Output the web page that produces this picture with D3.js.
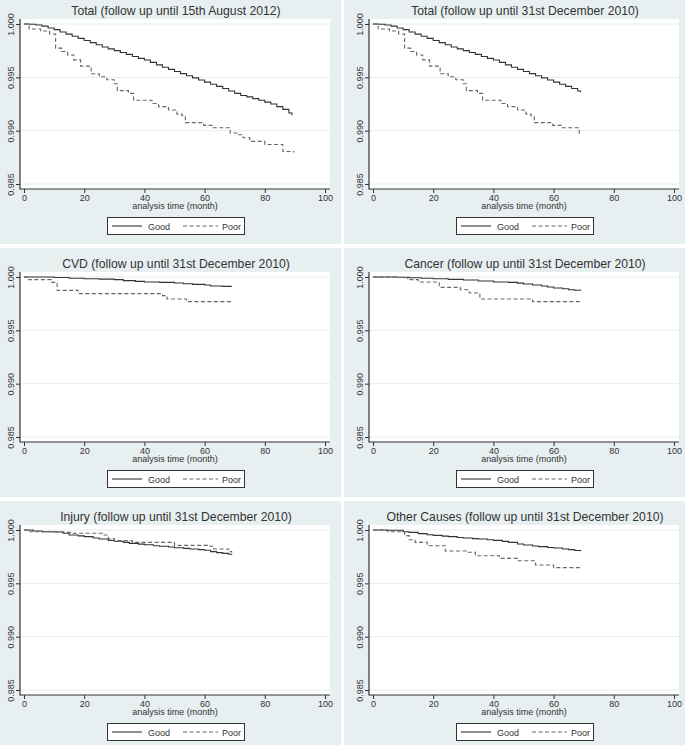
<!DOCTYPE html>
<html><head><meta charset="utf-8">
<script src="https://cdn.jsdelivr.net/npm/d3@7"></script>
<style>
body{margin:0;background:#fff;}
svg{display:block;font-family:"Liberation Sans",Arial,sans-serif;}
</style>
</head><body>
<svg id="chart" width="685" height="745"></svg>
<script>
// ---------------- DATA ----------------
const panelTitles = [
  "Total (follow up until 15th August 2012)",
  "Total (follow up until 31st December 2010)",
  "CVD (follow up until 31st December 2010)",
  "Cancer (follow up until 31st December 2010)",
  "Injury (follow up until 31st December 2010)",
  "Other Causes (follow up until 31st December 2010)"
];
const seriesNames = ["Good", "Poor"];
const xTicks = [0, 20, 40, 60, 80, 100];
const yTicks = [0.985, 0.990, 0.995, 1.000];
const xLabel = "analysis time (month)";

// [month, survival]
const total2012Good = [[0,1.0000],[2,0.99998],[4,0.99990],[6,0.99980],[8,0.99963],[10,0.99947],[12,0.99925],[14,0.99905],[16,0.99885],[18,0.99865],[20,0.99845],[22,0.99825],[24,0.99805],[26,0.99785],[28,0.99767],[30,0.99750],[32,0.99733],[34,0.99715],[36,0.99695],[38,0.99678],[40,0.99662],[42,0.99640],[44,0.99617],[46,0.99595],[48,0.99575],[50,0.99555],[52,0.99535],[54,0.99515],[56,0.99495],[58,0.99475],[60,0.99455],[62,0.99435],[64,0.99415],[66,0.99395],[68,0.99372],[70,0.99350],[72,0.99330],[74,0.99317],[76,0.99300],[78,0.99285],[80,0.99268],[82,0.99250],[84,0.99225],[86,0.99200],[88,0.99165],[89,0.99145]];
const total2012Poor = [[0,1.0000],[1.7,0.99953],[5.5,0.99935],[8.5,0.99906],[10.5,0.99774],[12.5,0.99742],[14.5,0.99710],[16.5,0.99664],[18.8,0.99605],[22.3,0.99533],[25,0.99505],[27.5,0.99478],[30,0.99440],[31,0.99375],[34.7,0.99350],[36.4,0.99285],[42.5,0.99255],[44.7,0.99225],[48,0.99194],[50.8,0.99155],[52.5,0.99140],[53.6,0.99075],[59.7,0.99050],[62.5,0.99027],[68.5,0.98978],[71,0.98962],[72.8,0.98934],[75,0.98900],[80,0.98871],[86,0.98805],[89.6,0.98796]];
const total2010Good = [[0,1.0000],[2,0.99998],[4,0.99990],[6,0.99980],[8,0.99963],[10,0.99947],[12,0.99925],[14,0.99905],[16,0.99885],[18,0.99865],[20,0.99845],[22,0.99825],[24,0.99805],[26,0.99785],[28,0.99767],[30,0.99750],[32,0.99733],[34,0.99715],[36,0.99695],[38,0.99678],[40,0.99662],[42,0.99640],[44,0.99617],[46,0.99595],[48,0.99575],[50,0.99555],[52,0.99535],[54,0.99515],[56,0.99495],[58,0.99475],[60,0.99455],[62,0.99435],[64,0.99415],[66,0.99395],[68,0.99372],[69,0.99360]];
const total2010Poor = [[0,1.0000],[1.7,0.99953],[5.5,0.99935],[8.5,0.99906],[10.5,0.99774],[12.5,0.99742],[14.5,0.99710],[16.5,0.99664],[18.8,0.99605],[22.3,0.99533],[25,0.99505],[27.5,0.99478],[30,0.99440],[31,0.99375],[34.7,0.99350],[36.4,0.99285],[42.5,0.99255],[44.7,0.99225],[48,0.99194],[50.8,0.99155],[52.5,0.99140],[53.6,0.99075],[59.7,0.99050],[62.5,0.99027],[68.5,0.98975],[69,0.98972]];
const cvdGood = [[0,1.0000],[10,0.99995],[15,0.99988],[20,0.99984],[25,0.99980],[30,0.99975],[33,0.99966],[37,0.99959],[40,0.99953],[45,0.99950],[50,0.99944],[53,0.99937],[56,0.99931],[60,0.99925],[62,0.99916],[66,0.99912],[69,0.99912]];
const cvdPoor = [[0,1.0000],[1.5,0.99975],[9,0.99950],[11,0.99875],[18,0.99844],[46,0.99825],[47.5,0.99794],[54,0.99769],[69,0.99769]];
const cancerGood = [[0,1.0000],[8,0.99998],[12,0.99993],[16,0.99988],[20,0.99984],[25,0.99978],[30,0.99972],[35,0.99962],[40,0.99953],[45,0.99950],[48,0.99943],[50,0.99934],[53,0.99925],[56,0.99915],[58,0.99906],[60,0.99897],[63,0.99890],[65,0.99881],[67,0.99876],[69,0.99872]];
const cancerPoor = [[0,1.0000],[8,0.99995],[11.5,0.99975],[15,0.99953],[22,0.99903],[29,0.99880],[32,0.99850],[35.5,0.99794],[53,0.99769],[68.5,0.99760],[69,0.99760]];
const injuryGood = [[0,1.0000],[3,0.99990],[6,0.99984],[10,0.99981],[13,0.99969],[15,0.99953],[18,0.99945],[20,0.99938],[23,0.99925],[25,0.99916],[28,0.99903],[30,0.99894],[33,0.99884],[35,0.99875],[38,0.99868],[40,0.99862],[43,0.99853],[45,0.99847],[48,0.99840],[50,0.99834],[53,0.99828],[55,0.99822],[58,0.99816],[60,0.99810],[62,0.99797],[64,0.99788],[66,0.99781],[68,0.99772],[69,0.99769]];
const injuryPoor = [[0,1.0000],[2,0.99984],[13,0.99978],[16,0.99969],[26,0.99953],[28,0.99920],[30,0.99900],[36,0.99884],[50,0.99856],[61,0.99847],[63,0.99822],[68,0.99797],[69,0.99790]];
const otherGood = [[0,1.0000],[5,0.99997],[10,0.99984],[12,0.99978],[15,0.99966],[18,0.99956],[20,0.99950],[23,0.99943],[25,0.99938],[28,0.99930],[30,0.99925],[33,0.99919],[35,0.99916],[38,0.99908],[40,0.99903],[43,0.99893],[45,0.99884],[48,0.99869],[50,0.99859],[53,0.99850],[55,0.99844],[58,0.99836],[60,0.99831],[63,0.99822],[65,0.99816],[67,0.99808],[69,0.99800]];
const otherPoor = [[0,1.0000],[4,0.99994],[5,0.99984],[10.5,0.99947],[12,0.99909],[14,0.99884],[18,0.99853],[24,0.99803],[31,0.99791],[34,0.99759],[42,0.99734],[48,0.99712],[54,0.99672],[60,0.99647],[69,0.99647]];

const panelSeries = [
  [total2012Good, total2012Poor],
  [total2010Good, total2010Poor],
  [cvdGood, cvdPoor],
  [cancerGood, cancerPoor],
  [injuryGood, injuryPoor],
  [otherGood, otherPoor]
];

// ---------------- LAYOUT ----------------
const colX = [-5, 344];
const rowY = [-5, 248, 501];
const panelW = 346, panelH = 249;
const bg = "#e8eff1";
const gridColor = "#e6edef";
const axisColor = "#333";
const textColor = "#333";
const lineStyles = [
  {stroke: "#333", dash: null},
  {stroke: "#666", dash: "4,2.5"}
];

const plot = {left: 25, right: 335, top: 24, bottom: 194};
const svg = d3.select("#chart");
svg.append("rect").attr("width", 685).attr("height", 745).attr("fill", "#fff");

panelTitles.forEach((title, i) => {
  const g = svg.append("g")
    .attr("transform", `translate(${colX[i % 2]},${rowY[Math.floor(i / 2)]})`);
  g.append("rect").attr("width", panelW).attr("height", panelH).attr("fill", bg);
  g.append("rect")
    .attr("x", plot.left).attr("y", plot.top)
    .attr("width", plot.right - plot.left).attr("height", plot.bottom - plot.top)
    .attr("fill", "#fff");

  const x = d3.scaleLinear().domain([0, 100]).range([29, 330]);
  const y = d3.scaleLinear().domain([0.985, 1.0]).range([189, 29]);

  // grid
  g.append("g").selectAll("line").data(yTicks).join("line")
    .attr("x1", plot.left + 1).attr("x2", plot.right)
    .attr("y1", d => y(d)).attr("y2", d => y(d))
    .attr("stroke", gridColor).attr("stroke-width", 1);

  // x axis
  const xa = g.append("g").attr("transform", `translate(0,${plot.bottom})`)
    .call(d3.axisBottom(x).tickValues(xTicks).tickSize(4).tickPadding(2).tickFormat(d3.format("d")));
  xa.select(".domain").remove();
  xa.selectAll(".tick line").attr("stroke", axisColor);
  xa.selectAll(".tick text").attr("fill", textColor).style("font-size", "9px")
    .style("font-family", '"Liberation Sans",Arial,sans-serif');

  // y axis
  const ya = g.append("g").attr("transform", `translate(${plot.left},0)`)
    .call(d3.axisLeft(y).tickValues(yTicks).tickSize(4).tickFormat(d3.format(".3f")));
  ya.select(".domain").remove();
  ya.selectAll(".tick line").attr("stroke", axisColor);
  ya.selectAll(".tick text")
    .attr("x", null).attr("dy", null)
    .attr("transform", "translate(-6,0) rotate(-90)")
    .attr("text-anchor", "middle")
    .attr("fill", textColor).style("font-size", "9px")
    .style("font-family", '"Liberation Sans",Arial,sans-serif');

  // axis lines
  g.append("line").attr("x1", plot.left).attr("x2", plot.left)
    .attr("y1", plot.top).attr("y2", plot.bottom + 0.5)
    .attr("stroke", axisColor).attr("stroke-width", 1.2);
  g.append("line").attr("x1", plot.left).attr("x2", plot.right)
    .attr("y1", plot.bottom).attr("y2", plot.bottom)
    .attr("stroke", axisColor).attr("stroke-width", 1.2);

  // curves
  const line = d3.line().x(d => x(d[0])).y(d => y(d[1])).curve(d3.curveStepAfter);
  panelSeries[i].forEach((data, s) => {
    g.append("path").attr("d", line(data))
      .attr("fill", "none")
      .attr("stroke", lineStyles[s].stroke)
      .attr("stroke-width", 1.1)
      .attr("stroke-dasharray", lineStyles[s].dash);
  });

  // title
  g.append("text").attr("x", 181).attr("y", 19.5)
    .attr("text-anchor", "middle").attr("fill", textColor)
    .style("font-size", "12.2px").text(title);

  // x label
  g.append("text").attr("x", 180).attr("y", 214)
    .attr("text-anchor", "middle").attr("fill", textColor)
    .style("font-size", "9px").text(xLabel);

  // legend
  const lg = g.append("g");
  lg.append("rect").attr("x", 112.5).attr("y", 222.5).attr("width", 137).attr("height", 17)
    .attr("fill", "#fff").attr("stroke", axisColor).attr("stroke-width", 1);
  const legendItems = [
    {x1: 117, x2: 147, tx: 153},
    {x1: 188, x2: 223, tx: 227}
  ];
  seriesNames.forEach((name, s) => {
    lg.append("line").attr("x1", legendItems[s].x1).attr("x2", legendItems[s].x2)
      .attr("y1", 231).attr("y2", 231)
      .attr("stroke", lineStyles[s].stroke).attr("stroke-width", 1.1)
      .attr("stroke-dasharray", lineStyles[s].dash);
    lg.append("text").attr("x", legendItems[s].tx).attr("y", 234.5)
      .attr("fill", textColor).style("font-size", "9px").text(name);
  });
});
</script>
</body></html>
